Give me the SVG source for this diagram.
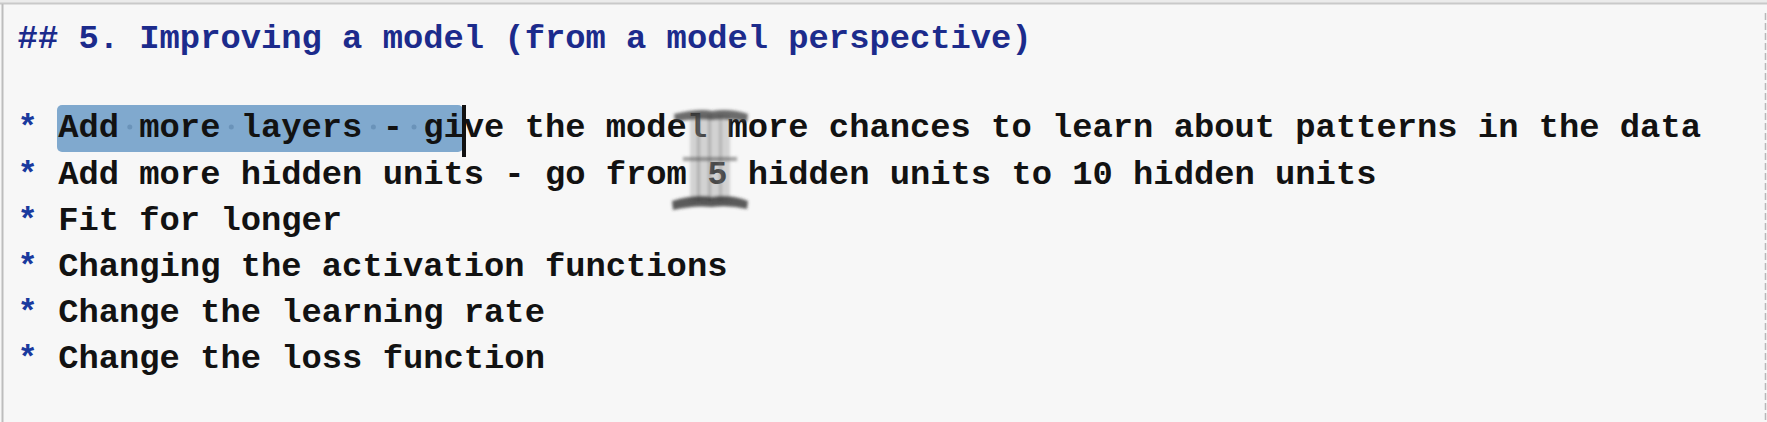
<svg xmlns="http://www.w3.org/2000/svg" width="1767" height="422" viewBox="0 0 1767 422">
<defs>
<style>
.t{font-family:"Liberation Mono","Courier New",monospace;font-weight:bold;font-size:33.8px;fill:#121212;white-space:pre}
.h{fill:#1c2b8c}
.b{fill:#1a3a9e}
.dot{fill:#6a93b9}
</style>
<filter id="blur" x="-20%" y="-20%" width="140%" height="140%"><feGaussianBlur stdDeviation="1.8"/></filter>
</defs>
<rect width="1767" height="422" fill="#f7f7f7"/>
<rect width="1767" height="3" fill="#ebebeb"/>
<line x1="0" y1="3.5" x2="1767" y2="3.5" stroke="#c9c9c9" stroke-width="2"/>
<line x1="2.5" y1="4" x2="2.5" y2="422" stroke="#bdbdbd" stroke-width="2"/>
<line x1="1765.5" y1="13" x2="1765.5" y2="422" stroke="#b8b8b8" stroke-width="1.5" stroke-dasharray="7 3"/>
<g id="selection">
<rect x="57" y="105" width="406" height="47" rx="5" fill="#80a9ce"/>
<circle class="dot" cx="129.8" cy="127" r="2.5"/>
<circle class="dot" cx="231.3" cy="127" r="2.5"/>
<circle class="dot" cx="373.4" cy="127" r="2.5"/>
<circle class="dot" cx="414" cy="127" r="2.5"/>
</g>
<g id="heading">
<text class="t h" x="17.6" y="48" xml:space="preserve">## 5. Improving a model (from a model perspective)</text>
</g>
<g id="bullets">
<text class="t" x="17.6" y="137" xml:space="preserve"><tspan class="b">*</tspan> Add more layers - give the model more chances to learn about patterns in the data</text>
<text class="t" x="17.6" y="184" xml:space="preserve"><tspan class="b">*</tspan> Add more hidden units - go from 5 hidden units to 10 hidden units</text>
<text class="t" x="17.6" y="230" xml:space="preserve"><tspan class="b">*</tspan> Fit for longer</text>
<text class="t" x="17.6" y="276" xml:space="preserve"><tspan class="b">*</tspan> Changing the activation functions</text>
<text class="t" x="17.6" y="322" xml:space="preserve"><tspan class="b">*</tspan> Change the learning rate</text>
<text class="t" x="17.6" y="368" xml:space="preserve"><tspan class="b">*</tspan> Change the loss function</text>
</g>
<g id="text-cursor">
<rect x="462" y="105" width="4" height="52" fill="#111"/>
</g>
<g id="mouse-ibeam" filter="url(#blur)">
<rect x="690" y="114" width="40" height="88" fill="#9a9a9a" opacity="0.4"/>
<rect x="697" y="114" width="3" height="88" fill="#7a7a7a" opacity="0.4"/>
<rect x="708" y="114" width="3" height="88" fill="#7a7a7a" opacity="0.4"/>
<rect x="719" y="114" width="3" height="88" fill="#7a7a7a" opacity="0.35"/>
<path d="M674 114 Q700 108 712 111 Q730 108 748 114 L747 122 Q728 118 712 120 Q696 118 675 122 Z" fill="#3c3c3c" opacity="0.75"/>
<rect x="683" y="157" width="54" height="4" fill="#555" opacity="0.55"/>
<path d="M672 201 Q695 194 712 197 Q730 194 748 201 L747 209 Q730 205 712 207 Q694 205 673 210 Z" fill="#333" opacity="0.8"/>
</g>
</svg>
